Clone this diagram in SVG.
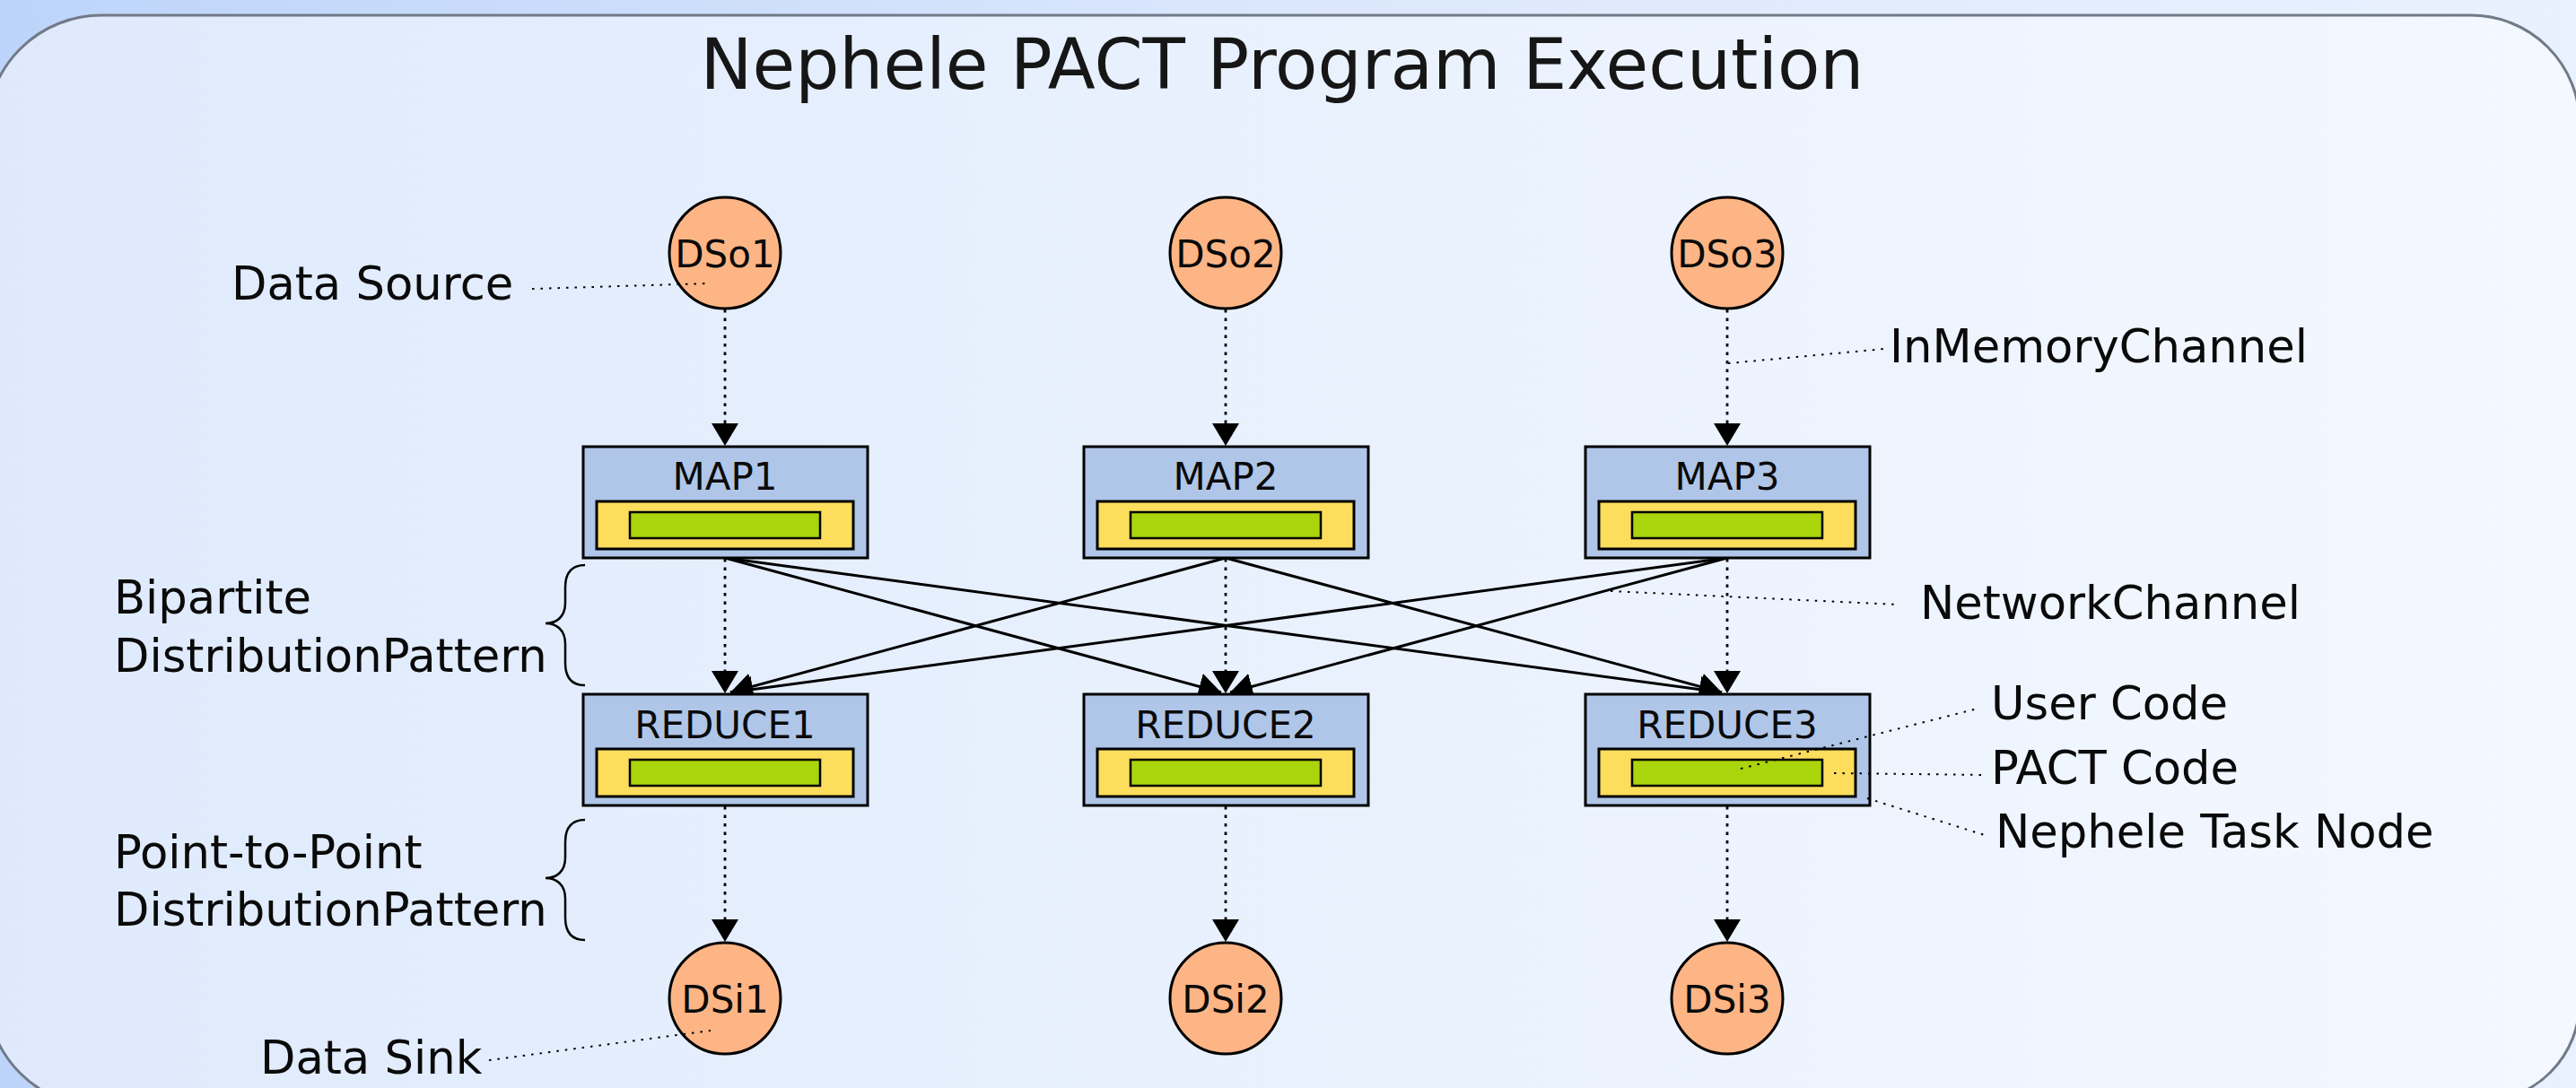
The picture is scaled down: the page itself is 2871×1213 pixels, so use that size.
<svg xmlns="http://www.w3.org/2000/svg" width="2871" height="1213" viewBox="0 0 2871 1213">
<defs>
<linearGradient id="bg" x1="0" y1="0" x2="1" y2="0">
<stop offset="0" stop-color="#bdd4fa"/>
<stop offset="0.5" stop-color="#dbe7fc"/>
<stop offset="1" stop-color="#e9f1fe"/>
</linearGradient>
<linearGradient id="inner" x1="0" y1="0" x2="1" y2="0">
<stop offset="0" stop-color="#deeafc"/>
<stop offset="1" stop-color="#f4f8ff"/>
</linearGradient>
<marker id="arr" markerUnits="userSpaceOnUse" markerWidth="25" markerHeight="30" refX="25" refY="15" orient="auto">
<path d="M0,0 L25,15 L0,30 Z" fill="#000"/>
</marker>
<style>
text{font-family:"DejaVu Sans","Liberation Sans",sans-serif;fill:#0a0a0a}
.t{font-size:77.5px;text-anchor:middle;fill:#161616}
.n{font-size:42px;text-anchor:middle}
.lab{font-size:51.2px}
.circ{fill:#fdb585;stroke:#000;stroke-width:3}
.box{fill:#b0c6e8;stroke:#000;stroke-width:3}
.pact{fill:#fddd5c;stroke:#000;stroke-width:3}
.user{fill:#aad40b;stroke:#000;stroke-width:2.5}
.mem{stroke:#000;stroke-width:2.8;stroke-dasharray:3.5 6;fill:none}
.net{stroke:#000;stroke-width:3;fill:none}
.ann{stroke:#000;stroke-width:2;stroke-dasharray:2.5 7;fill:none}
.brace{stroke:#000;stroke-width:2.5;fill:none}
</style>
</defs>
<rect x="0" y="0" width="2871" height="1213" fill="url(#bg)"/>
<path d="M113,17 H2754 A121,121 0 0 1 2875,138 V1117 A111,111 0 0 1 2764,1228 L113,1234 A128,128 0 0 1 -15,1106 V145 A128,128 0 0 1 113,17 Z" fill="url(#inner)" stroke="#717a87" stroke-width="3"/>
<text class="t" x="1429" y="99">Nephele PACT Program Execution</text>

<g id="connectors">
<line class="mem" x1="808" y1="345" x2="808" y2="497" marker-end="url(#arr)"/>
<line class="mem" x1="1366" y1="345" x2="1366" y2="497" marker-end="url(#arr)"/>
<line class="mem" x1="1925" y1="345" x2="1925" y2="497" marker-end="url(#arr)"/>
<line class="mem" x1="808" y1="623" x2="808" y2="773" marker-end="url(#arr)"/>
<line class="mem" x1="1366" y1="623" x2="1366" y2="773" marker-end="url(#arr)"/>
<line class="mem" x1="1925" y1="623" x2="1925" y2="773" marker-end="url(#arr)"/>
<line class="mem" x1="808" y1="899" x2="808" y2="1050" marker-end="url(#arr)"/>
<line class="mem" x1="1366" y1="899" x2="1366" y2="1050" marker-end="url(#arr)"/>
<line class="mem" x1="1925" y1="899" x2="1925" y2="1050" marker-end="url(#arr)"/>
<line class="net" x1="808" y1="622" x2="1361" y2="772" marker-end="url(#arr)"/>
<line class="net" x1="808" y1="622" x2="1919" y2="772" marker-end="url(#arr)"/>
<line class="net" x1="1366" y1="622" x2="814" y2="772" marker-end="url(#arr)"/>
<line class="net" x1="1366" y1="622" x2="1919" y2="772" marker-end="url(#arr)"/>
<line class="net" x1="1925" y1="622" x2="814" y2="772" marker-end="url(#arr)"/>
<line class="net" x1="1925" y1="622" x2="1371" y2="772" marker-end="url(#arr)"/>
</g>

<g id="DSo1"><circle class="circ" cx="808" cy="282" r="62"/><text class="n" x="808" y="298">DSo1</text></g>
<g id="DSo2"><circle class="circ" cx="1366" cy="282" r="62"/><text class="n" x="1366" y="298">DSo2</text></g>
<g id="DSo3"><circle class="circ" cx="1925" cy="282" r="62"/><text class="n" x="1925" y="298">DSo3</text></g>

<g id="MAP1"><rect class="box" x="650" y="498" width="317" height="124"/><rect class="pact" x="665" y="559" width="286" height="53"/><rect class="user" x="702" y="571" width="212" height="29"/><text class="n" x="808" y="546">MAP1</text></g>
<g id="MAP2"><rect class="box" x="1208" y="498" width="317" height="124"/><rect class="pact" x="1223" y="559" width="286" height="53"/><rect class="user" x="1260" y="571" width="212" height="29"/><text class="n" x="1366" y="546">MAP2</text></g>
<g id="MAP3"><rect class="box" x="1767" y="498" width="317" height="124"/><rect class="pact" x="1782" y="559" width="286" height="53"/><rect class="user" x="1819" y="571" width="212" height="29"/><text class="n" x="1925" y="546">MAP3</text></g>

<g id="REDUCE1"><rect class="box" x="650" y="774" width="317" height="124"/><rect class="pact" x="665" y="835" width="286" height="53"/><rect class="user" x="702" y="847" width="212" height="29"/><text class="n" x="808" y="823">REDUCE1</text></g>
<g id="REDUCE2"><rect class="box" x="1208" y="774" width="317" height="124"/><rect class="pact" x="1223" y="835" width="286" height="53"/><rect class="user" x="1260" y="847" width="212" height="29"/><text class="n" x="1366" y="823">REDUCE2</text></g>
<g id="REDUCE3"><rect class="box" x="1767" y="774" width="317" height="124"/><rect class="pact" x="1782" y="835" width="286" height="53"/><rect class="user" x="1819" y="847" width="212" height="29"/><text class="n" x="1925" y="823">REDUCE3</text></g>

<g id="DSi1"><circle class="circ" cx="808" cy="1113" r="62"/><text class="n" x="808" y="1129">DSi1</text></g>
<g id="DSi2"><circle class="circ" cx="1366" cy="1113" r="62"/><text class="n" x="1366" y="1129">DSi2</text></g>
<g id="DSi3"><circle class="circ" cx="1925" cy="1113" r="62"/><text class="n" x="1925" y="1129">DSi3</text></g>

<g id="annotations">
<line class="ann" x1="593" y1="322" x2="789" y2="316"/>
<line class="ann" x1="545" y1="1182" x2="792" y2="1149"/>
<line class="ann" x1="1926" y1="405" x2="2100" y2="389"/>
<line class="ann" x1="1795" y1="659" x2="2115" y2="674"/>
<line class="ann" x1="1940" y1="857" x2="2204" y2="790"/>
<line class="ann" x1="2044" y1="862" x2="2214" y2="864"/>
<line class="ann" x1="2081" y1="890" x2="2215" y2="932"/>
<path class="brace" d="M652,630 C638,630 630,638 630,655 V672 C630,688 620,695 608,695 C620,695 630,702 630,718 V739 C630,756 638,764 652,764"/>
<path class="brace" d="M652,914 C638,914 630,922 630,939 V956 C630,972 620,979 608,979 C620,979 630,986 630,1002 V1023 C630,1040 638,1048 652,1048"/>
<text class="lab" x="258" y="334">Data Source</text>
<text class="lab" x="2106" y="404">InMemoryChannel</text>
<text class="lab" x="127" y="684">Bipartite</text>
<text class="lab" x="127" y="749">DistributionPattern</text>
<text class="lab" x="2140" y="690">NetworkChannel</text>
<text class="lab" x="2219" y="802">User Code</text>
<text class="lab" x="2219" y="874">PACT Code</text>
<text class="lab" x="2224" y="945">Nephele Task Node</text>
<text class="lab" x="127" y="968">Point-to-Point</text>
<text class="lab" x="127" y="1032">DistributionPattern</text>
<text class="lab" x="290" y="1197">Data Sink</text>
</g>
</svg>
